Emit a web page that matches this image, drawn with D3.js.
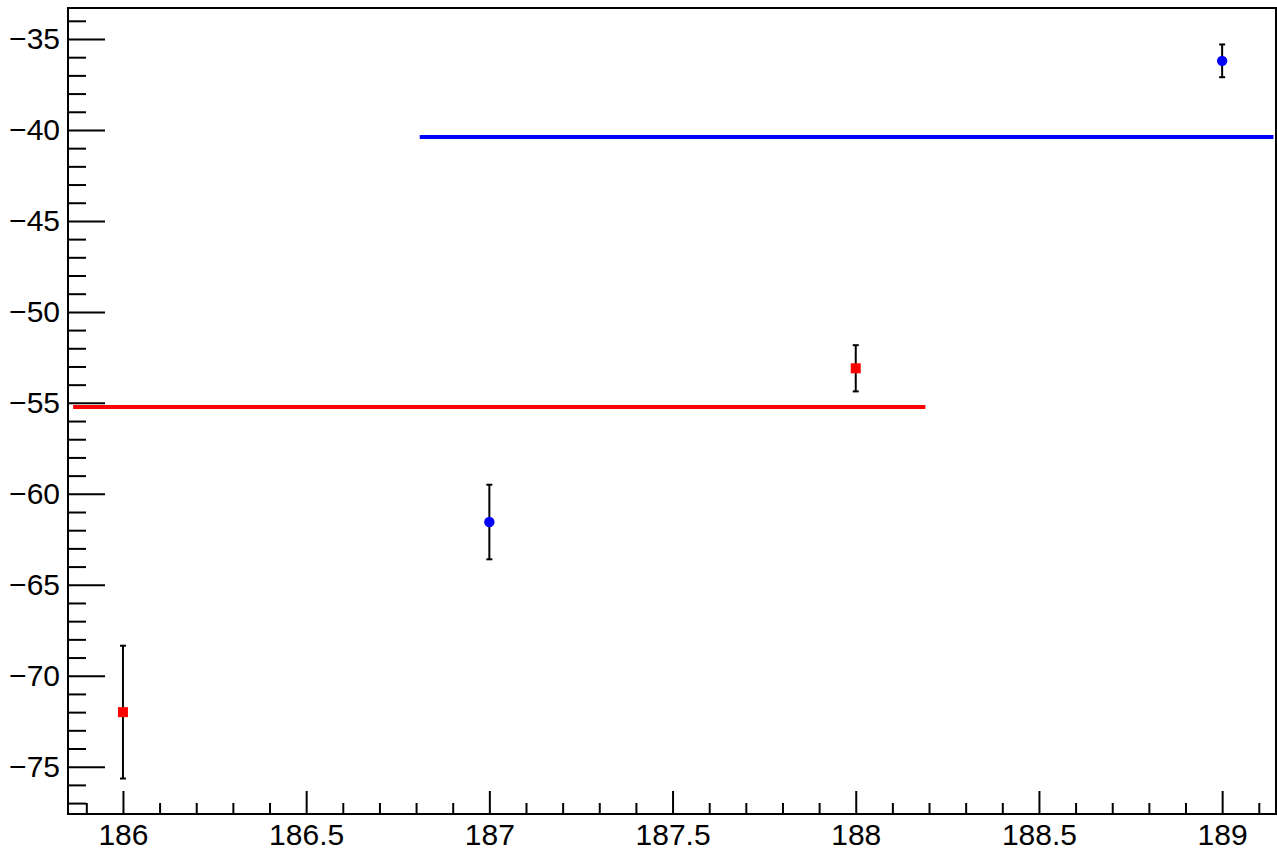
<!DOCTYPE html>
<html><head><meta charset="utf-8">
<script src="https://cdn.jsdelivr.net/npm/d3@7"></script>
<style>body{margin:0;background:#fff}svg{display:block}text{font-family:"Liberation Sans",Arial,sans-serif}</style>
</head><body><svg id="c" width="1277" height="852"></svg>
<script>
// Data
const redX = [186, 188];
const redY = [-72.0, -53.1];
const redErr = [3.65, 1.27];
const blueX = [187, 189];
const blueY = [-61.55, -36.2];
const blueErr = [2.05, 0.9];
const redLine = {x0: 185.864, x1: 188.19, y: -55.23};
const blueLine = {x0: 186.81, x1: 189.14, y: -40.39};
const xMajor = [186, 186.5, 187, 187.5, 188, 188.5, 189];
const yMajor = [-75, -70, -65, -60, -55, -50, -45, -40, -35];

const svg = d3.select("#c");
const L = 68, R = 1276, T = 8, B = 814;
const x = d3.scaleLinear().domain([185.85, 189.147]).range([L, R]);
const y = d3.scaleLinear().domain([-77.6, -33.296]).range([B, T]);

const xMinor = d3.range(1859, 1892).map(v => v / 10).filter(v => Math.abs(v*2 - Math.round(v*2)) > 1e-6);
const yMinor = d3.range(-77, -33).filter(v => v % 5 !== 0);

const fmt = d => (d < 0 ? "\u2212" + Math.abs(d) : String(d));

// minor ticks
svg.append("g").attr("transform", `translate(${L},0)`)
  .call(d3.axisLeft(y).tickValues(yMinor).tickSize(-18).tickFormat(""))
  .call(g => g.select(".domain").remove())
  .call(g => g.selectAll("line").attr("stroke", "#000").attr("stroke-width", 2));
svg.append("g").attr("transform", `translate(0,${B})`)
  .call(d3.axisBottom(x).tickValues(xMinor).tickSize(-11).tickFormat(""))
  .call(g => g.select(".domain").remove())
  .call(g => g.selectAll("line").attr("stroke", "#000").attr("stroke-width", 2));

// major ticks
svg.append("g").attr("transform", `translate(${L},0)`)
  .call(d3.axisLeft(y).tickValues(yMajor).tickSize(-37).tickPadding(8).tickFormat(fmt))
  .call(g => g.select(".domain").remove())
  .call(g => g.selectAll("line").attr("stroke", "#000").attr("stroke-width", 2))
  .call(g => g.selectAll("text").attr("font-size", 30).attr("fill", "#000").attr("font-family", "Liberation Sans, Arial, sans-serif"));
svg.append("g").attr("transform", `translate(0,${B})`)
  .call(d3.axisBottom(x).tickValues(xMajor).tickSize(-23).tickPadding(10).tickFormat(d => String(d)))
  .call(g => g.select(".domain").remove())
  .call(g => g.selectAll("line").attr("stroke", "#000").attr("stroke-width", 2))
  .call(g => g.selectAll("text").attr("font-size", 30).attr("fill", "#000").attr("font-family", "Liberation Sans, Arial, sans-serif"));

// frame
svg.append("rect").attr("x", L).attr("y", T).attr("width", R - L).attr("height", B - T)
  .attr("fill", "none").attr("stroke", "#000").attr("stroke-width", 2);

// fit lines
svg.append("line").attr("x1", x(redLine.x0)).attr("x2", x(redLine.x1))
  .attr("y1", y(redLine.y)).attr("y2", y(redLine.y)).attr("stroke", "#ff0000").attr("stroke-width", 4);
svg.append("line").attr("x1", x(blueLine.x0)).attr("x2", x(blueLine.x1))
  .attr("y1", y(blueLine.y)).attr("y2", y(blueLine.y)).attr("stroke", "#0000ff").attr("stroke-width", 4);

function errBars(xs, ys, es) {
  const g = svg.append("g").attr("stroke", "#000").attr("stroke-width", 2);
  xs.forEach((xv, i) => {
    const cx = x(xv), y1 = y(ys[i] + es[i]), y2 = y(ys[i] - es[i]);
    g.append("line").attr("x1", cx).attr("x2", cx).attr("y1", y1).attr("y2", y2);
    g.append("line").attr("x1", cx - 3).attr("x2", cx + 3).attr("y1", y1).attr("y2", y1);
    g.append("line").attr("x1", cx - 3).attr("x2", cx + 3).attr("y1", y2).attr("y2", y2);
  });
}
errBars(redX, redY, redErr);
errBars(blueX, blueY, blueErr);

svg.append("g").selectAll("rect").data(redX).join("rect")
  .attr("x", (d) => x(d) - 5).attr("y", (d, i) => y(redY[i]) - 5)
  .attr("width", 10).attr("height", 10).attr("fill", "#ff0000");
svg.append("g").selectAll("circle").data(blueX).join("circle")
  .attr("cx", d => x(d)).attr("cy", (d, i) => y(blueY[i])).attr("r", 5.2).attr("fill", "#0000ff");
</script></body></html>
